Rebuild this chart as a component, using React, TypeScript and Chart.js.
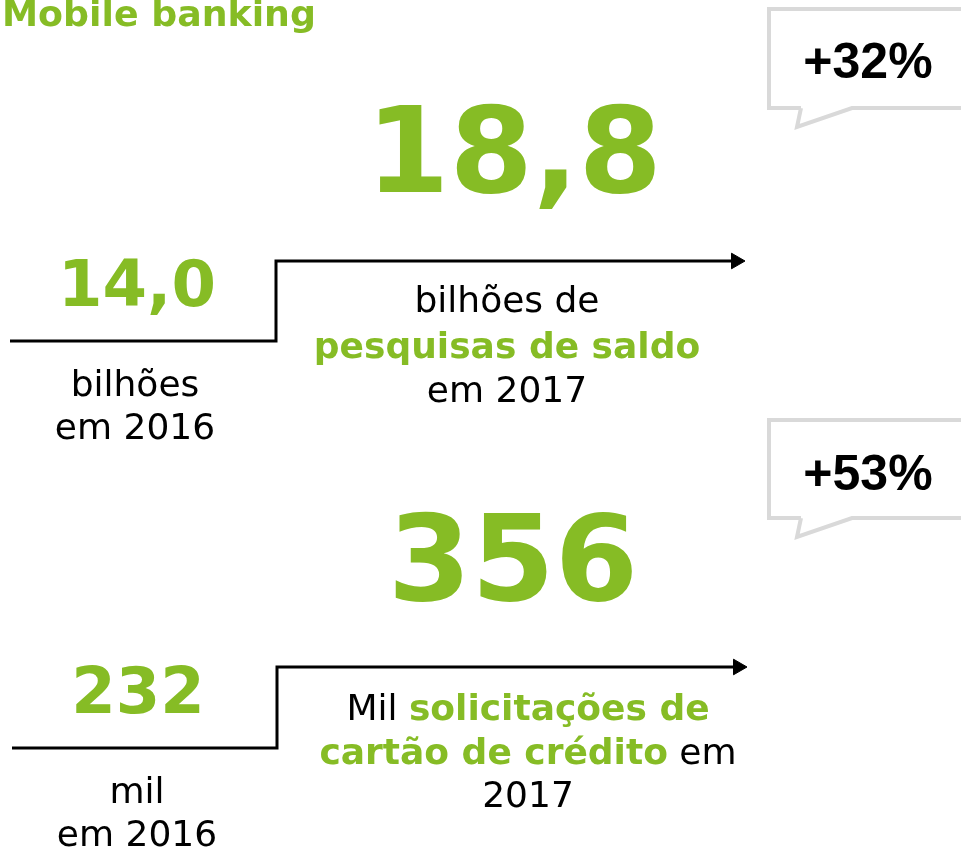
import React, { useEffect, useRef } from 'react';
import { Chart, registerables } from 'chart.js';

Chart.register(...registerables);

// ---------- data ----------
const TITLE = 'Mobile banking';
const YEARS = ['2016', '2017'];
const BALANCE_QUERIES = [14.0, 18.8]; // bilhões de pesquisas de saldo
const CARD_REQUESTS = [232, 356]; // mil solicitações de cartão de crédito
const GROWTH = ['+32%', '+53%'];

// ---------- style ----------
const GREEN = '#86BC25';
const BLACK = '#000000';
const BUBBLE_GREY = '#D9D9D9';
const FONT = '"DejaVu Sans", Verdana, sans-serif';
const FONT_PCT = '"Liberation Sans", Arial, sans-serif';
const W = 961;
const H = 852;

const fmt1 = (v: number) => v.toFixed(1).replace('.', ',');

type Seg = { t: string; c: string; b: boolean };

// ---------- layout (pixel positions in the canvas space) ----------
const PANELS = [
  {
    values: BALANCE_QUERIES.map(fmt1),
    growth: GROWTH[0],
    step: { x0: 10, xStep: 276, xTip: 745, yLow: 341, yHigh: 261 },
    big: { x: 514, y: 192 },
    small: { x: 137, y: 306 },
    leftLines: ['bilhões', `em ${YEARS[0]}`],
    leftPos: { x: 135, y: [396, 439] },
    rightLines: [
      [{ t: 'bilhões de', c: BLACK, b: false }],
      [{ t: 'pesquisas de saldo', c: GREEN, b: true }],
      [{ t: `em ${YEARS[1]}`, c: BLACK, b: false }],
    ] as Seg[][],
    rightPos: { x: 507, y: [312, 358, 402] },
    bubble: { left: 769, top: 9, bottom: 108, tail: [[801, 108], [797, 127], [852, 108]], tx: 868, ty: 78 },
  },
  {
    values: CARD_REQUESTS.map(String),
    growth: GROWTH[1],
    step: { x0: 12, xStep: 277, xTip: 747, yLow: 748, yHigh: 667 },
    big: { x: 513, y: 600 },
    small: { x: 138, y: 713 },
    leftLines: ['mil', `em ${YEARS[0]}`],
    leftPos: { x: 137, y: [803, 846] },
    rightLines: [
      [
        { t: 'Mil ', c: BLACK, b: false },
        { t: 'solicitações de', c: GREEN, b: true },
      ],
      [
        { t: 'cartão de crédito', c: GREEN, b: true },
        { t: ' em', c: BLACK, b: false },
      ],
      [{ t: YEARS[1], c: BLACK, b: false }],
    ] as Seg[][],
    rightPos: { x: 528, y: [720, 764, 807] },
    bubble: { left: 769, top: 420, bottom: 518, tail: [[801, 518], [797, 537], [852, 518]], tx: 868, ty: 490 },
  },
];

const ARROW_R = 9;

const overlayPlugin = {
  id: 'infographicOverlay',
  afterDraw(chart: any) {
    const ctx: CanvasRenderingContext2D = chart.ctx;
    ctx.save();
    ctx.textBaseline = 'alphabetic';

    // title
    ctx.fillStyle = GREEN;
    ctx.font = `bold 36.3px ${FONT}`;
    ctx.textAlign = 'left';
    ctx.fillText(TITLE, 2, 26);

    PANELS.forEach((p) => {
      // speech bubble
      const b = p.bubble;
      ctx.strokeStyle = BUBBLE_GREY;
      ctx.lineWidth = 4;
      ctx.lineJoin = 'miter';
      ctx.beginPath();
      ctx.moveTo(b.tail[0][0], b.bottom);
      ctx.lineTo(b.left, b.bottom);
      ctx.lineTo(b.left, b.top);
      ctx.lineTo(W + 20, b.top);
      ctx.moveTo(W + 20, b.bottom);
      ctx.lineTo(b.tail[2][0], b.tail[2][1]);
      ctx.lineTo(b.tail[1][0], b.tail[1][1]);
      ctx.lineTo(b.tail[0][0], b.tail[0][1]);
      ctx.stroke();

      ctx.fillStyle = BLACK;
      ctx.font = `bold 50px ${FONT_PCT}`;
      ctx.textAlign = 'center';
      ctx.fillText(p.growth, b.tx, b.ty);

      // big 2017 value
      ctx.fillStyle = GREEN;
      ctx.font = `bold 120px ${FONT}`;
      ctx.fillText(p.values[1], p.big.x, p.big.y);

      // small 2016 value
      ctx.font = `bold 64px ${FONT}`;
      ctx.fillText(p.values[0], p.small.x, p.small.y);

      // left label
      ctx.fillStyle = BLACK;
      ctx.font = `36px ${FONT}`;
      p.leftLines.forEach((line, i) => ctx.fillText(line, p.leftPos.x, p.leftPos.y[i]));

      // right label (mixed segments)
      ctx.textAlign = 'left';
      p.rightLines.forEach((segs, i) => {
        const widths = segs.map((s) => {
          ctx.font = `${s.b ? 'bold ' : ''}36px ${FONT}`;
          return ctx.measureText(s.t).width;
        });
        const total = widths.reduce((a, w) => a + w, 0);
        let x = p.rightPos.x - total / 2;
        segs.forEach((s, j) => {
          ctx.font = `${s.b ? 'bold ' : ''}36px ${FONT}`;
          ctx.fillStyle = s.c;
          ctx.fillText(s.t, x, p.rightPos.y[i]);
          x += widths[j];
        });
      });
    });
    ctx.restore();
  },
};

export default function App() {
  const ref = useRef<HTMLCanvasElement | null>(null);

  useEffect(() => {
    if (!ref.current) return;
    const datasets = PANELS.map((p) => {
      const s = p.step;
      const pts = [
        { x: s.x0, y: s.yLow },
        { x: s.xStep, y: s.yLow },
        { x: s.xStep, y: s.yHigh },
        { x: s.xTip - ARROW_R, y: s.yHigh },
      ];
      return {
        data: pts,
        borderColor: BLACK,
        backgroundColor: BLACK,
        borderWidth: 3,
        borderJoinStyle: 'miter' as const,
        borderCapStyle: 'butt' as const,
        tension: 0,
        fill: false,
        pointStyle: 'triangle' as const,
        pointRotation: 90,
        pointRadius: pts.map((_, i) => (i === pts.length - 1 ? ARROW_R : 0)),
        pointBorderWidth: 1,
        pointBackgroundColor: BLACK,
        pointBorderColor: BLACK,
        clip: false as any,
      };
    });

    const chart = new Chart(ref.current, {
      type: 'line',
      data: { datasets },
      options: {
        animation: false,
        responsive: false,
        maintainAspectRatio: false,
        events: [],
        layout: { padding: 0, autoPadding: false },
        plugins: { legend: { display: false }, tooltip: { enabled: false } },
        scales: {
          x: { type: 'linear', min: 0, max: W, display: false },
          y: { type: 'linear', min: 0, max: H, reverse: true, display: false },
        },
      },
      plugins: [overlayPlugin],
    });
    return () => chart.destroy();
  }, []);

  return (
    <div style={{ position: 'absolute', left: 0, top: 0, width: W, height: H, background: '#fff' }}>
      <canvas ref={ref} width={W} height={H} style={{ display: 'block', width: W, height: H }} />
    </div>
  );
}
